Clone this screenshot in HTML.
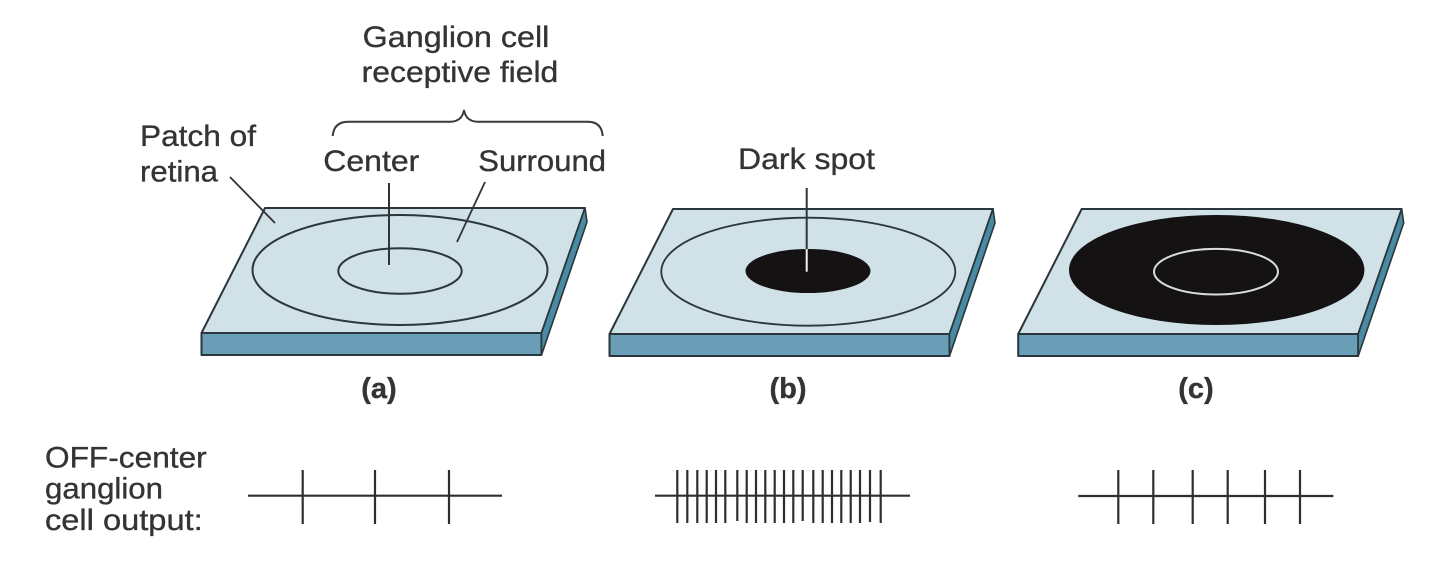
<!DOCTYPE html>
<html><head><meta charset="utf-8"><style>
html,body{margin:0;padding:0;background:#fff;}
svg{display:block;}
text{font-family:"Liberation Sans",Arial,sans-serif;fill:#343434;stroke:#343434;stroke-width:0.35;}
</style></head><body>
<svg width="1440" height="564" viewBox="0 0 1440 564" xmlns="http://www.w3.org/2000/svg">
<rect width="1440" height="564" fill="#fff"/>
<defs>
<g id="slab">
  <polygon points="0,0 320,0 276.5,125 -63.5,125" fill="#d0e1e8" stroke="#2a363b" stroke-width="2" stroke-linejoin="round"/>
  <polygon points="-63.5,125 276.5,125 276.5,147 -63.5,147" fill="#6a9db6" stroke="#2a363b" stroke-width="2" stroke-linejoin="round"/>
  <polygon points="320,0 322,14 276.5,147 276.5,125" fill="#4a8ba4" stroke="#2a363b" stroke-width="1.6" stroke-linejoin="round"/>
</g>
</defs>

<!-- Top texts -->
<text x="362.7" y="47" font-size="30" textLength="186.6" lengthAdjust="spacingAndGlyphs">Ganglion cell</text>
<text x="361.7" y="82" font-size="30" textLength="196.6" lengthAdjust="spacingAndGlyphs">receptive field</text>
<text x="140" y="146" font-size="30" textLength="116" lengthAdjust="spacingAndGlyphs">Patch of</text>
<text x="140" y="181.5" font-size="30" textLength="78" lengthAdjust="spacingAndGlyphs">retina</text>
<text x="323.3" y="171" font-size="30" textLength="96" lengthAdjust="spacingAndGlyphs">Center</text>
<text x="478.3" y="171" font-size="30" textLength="127.7" lengthAdjust="spacingAndGlyphs">Surround</text>
<text x="738" y="169" font-size="30" textLength="137" lengthAdjust="spacingAndGlyphs">Dark spot</text>

<!-- Brace -->
<path d="M332.7,136 Q334,121.7 348,121.7 L450,121.7 Q462,121.7 464,110 Q466,121.7 478,121.7 L588,121.7 Q601.5,121.7 602.7,136" fill="none" stroke="#3a3a3a" stroke-width="2"/>

<!-- Slab a -->
<use href="#slab" x="265" y="208"/>
<ellipse cx="400" cy="270" rx="147.5" ry="55" fill="none" stroke="#2a363b" stroke-width="2"/>
<ellipse cx="400" cy="271" rx="61.7" ry="22.8" fill="none" stroke="#2a363b" stroke-width="2"/>
<line x1="389" y1="183" x2="389" y2="265" stroke="#333" stroke-width="2"/>
<line x1="485" y1="182" x2="457" y2="242" stroke="#333" stroke-width="1.8"/>
<line x1="230" y1="177" x2="275" y2="223" stroke="#333" stroke-width="1.8"/>

<!-- Slab b -->
<use href="#slab" x="673" y="209"/>
<ellipse cx="808.3" cy="271.7" rx="147" ry="54" fill="none" stroke="#2a363b" stroke-width="1.8"/>
<ellipse cx="808" cy="271" rx="62.5" ry="22" fill="#141212"/>
<line x1="806.7" y1="188" x2="806.7" y2="249" stroke="#333" stroke-width="2"/>
<line x1="806.7" y1="249" x2="806.7" y2="271.7" stroke="#f2f2f2" stroke-width="2"/>

<!-- Slab c -->
<use href="#slab" x="1081.7" y="209"/>
<ellipse cx="1216.7" cy="270" rx="147.7" ry="55" fill="#141212"/>
<ellipse cx="1216" cy="271.7" rx="62" ry="22.8" fill="none" stroke="#dcdcdc" stroke-width="2"/>

<!-- Labels -->
<text x="379" y="398" font-size="29" font-weight="bold" text-anchor="middle">(a)</text>
<text x="788" y="398" font-size="29" font-weight="bold" text-anchor="middle">(b)</text>
<text x="1196" y="398" font-size="29" font-weight="bold" text-anchor="middle">(c)</text>

<!-- Bottom left text -->
<text x="45" y="467.3" font-size="30" textLength="161.7" lengthAdjust="spacingAndGlyphs">OFF-center</text>
<text x="45" y="498.5" font-size="30" textLength="118" lengthAdjust="spacingAndGlyphs">ganglion</text>
<text x="45" y="530" font-size="30" textLength="157.7" lengthAdjust="spacingAndGlyphs">cell output:</text>

<!-- Spike trains -->
<g stroke="#2e2e2e" stroke-width="2.2">
  <line x1="248" y1="495.7" x2="502" y2="495.7"/>
  <line x1="302.7" y1="470" x2="302.7" y2="524"/>
  <line x1="375" y1="470" x2="375" y2="524"/>
  <line x1="449" y1="470" x2="449" y2="524"/>

  <line x1="655" y1="495.7" x2="910" y2="495.7"/>
  <line x1="677.3" y1="470" x2="677.3" y2="523"/>
  <line x1="687.3" y1="470" x2="687.3" y2="523"/>
  <line x1="697.3" y1="470" x2="697.3" y2="523"/>
  <line x1="706.7" y1="470" x2="706.7" y2="523"/>
  <line x1="716" y1="470" x2="716" y2="523"/>
  <line x1="725.3" y1="470" x2="725.3" y2="523"/>
  <line x1="737.3" y1="470" x2="737.3" y2="521"/>
  <line x1="746.7" y1="470" x2="746.7" y2="523"/>
  <line x1="756" y1="470" x2="756" y2="523"/>
  <line x1="765.3" y1="470" x2="765.3" y2="523"/>
  <line x1="774.7" y1="470" x2="774.7" y2="523"/>
  <line x1="784" y1="470" x2="784" y2="523"/>
  <line x1="793.3" y1="470" x2="793.3" y2="523"/>
  <line x1="802.7" y1="470" x2="802.7" y2="521"/>
  <line x1="813.3" y1="470" x2="813.3" y2="523"/>
  <line x1="822.7" y1="470" x2="822.7" y2="523"/>
  <line x1="832" y1="470" x2="832" y2="523"/>
  <line x1="841.3" y1="470" x2="841.3" y2="523"/>
  <line x1="850.7" y1="470" x2="850.7" y2="523"/>
  <line x1="860" y1="470" x2="860" y2="523"/>
  <line x1="870" y1="470" x2="870" y2="522"/>
  <line x1="880.7" y1="470" x2="880.7" y2="523"/>

  <line x1="1078.3" y1="496" x2="1333.3" y2="496"/>
  <line x1="1118.3" y1="470" x2="1118.3" y2="524"/>
  <line x1="1153.3" y1="470" x2="1153.3" y2="524"/>
  <line x1="1192.7" y1="470" x2="1192.7" y2="524"/>
  <line x1="1227.7" y1="470" x2="1227.7" y2="524"/>
  <line x1="1265" y1="470" x2="1265" y2="524"/>
  <line x1="1300" y1="470" x2="1300" y2="524"/>
</g>
</svg>
</body></html>
